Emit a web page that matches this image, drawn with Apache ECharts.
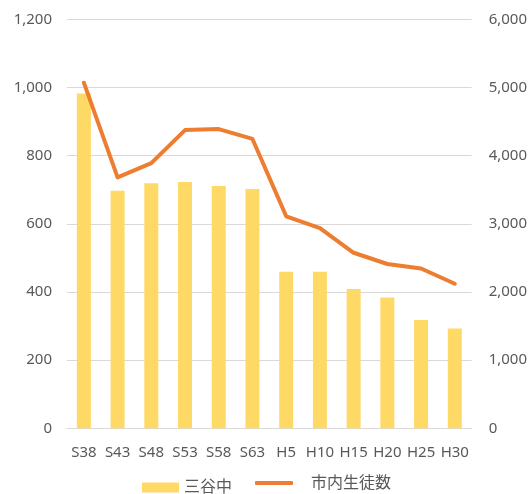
<!DOCTYPE html>
<html>
<head>
<meta charset="utf-8">
<script src="https://cdn.jsdelivr.net/npm/echarts@6/dist/echarts.min.js"></script>
<style>
html,body{margin:0;padding:0;background:#fff;}
#chart{width:530px;height:494px;}
</style>
</head>
<body>
<div id="chart"></div>
<script>
var categories = ['S38','S43','S48','S53','S58','S63','H5','H10','H15','H20','H25','H30'];
var schoolValues = [982, 697, 719, 723, 711, 702, 459, 459, 409, 384, 318, 293];
var cityValues = [5070, 3680, 3890, 4375, 4390, 4245, 3110, 2935, 2575, 2410, 2345, 2120];
var leftTicks = [0, 200, 400, 600, 800, 1000, 1200];
var rightTicks = [0, 1000, 2000, 3000, 4000, 5000, 6000];
var schoolName = '三谷中';
var cityName = '市内生徒数';

var fontFamily = '"Noto Sans", "Noto Sans CJK JP", sans-serif';
var textColor = '#595959';
var chart = echarts.init(document.getElementById('chart'), null, {renderer: 'canvas'});
function fmt(v){ return v.toLocaleString('en-US'); }
chart.setOption({
  animation: false,
  backgroundColor: '#ffffff',
  grid: {left: 67, right: 58, top: 19.3, bottom: 65.7},
  legend: [{
    data: [{name: schoolName, icon: 'rect'}],
    left: 137, top: 474.5,
    itemWidth: 37, itemHeight: 10,
    textStyle: {color: textColor, fontSize: 16, fontFamily: fontFamily}
  }, {
    data: [{name: cityName, icon: 'roundRect'}],
    left: 250, top: 470,
    itemWidth: 38, itemHeight: 4,
    textStyle: {color: textColor, fontSize: 16, fontFamily: fontFamily, padding: [0,0,9,13]}
  }],
  xAxis: {
    type: 'category',
    data: categories,
    axisLine: {show: true, lineStyle: {color: '#d9d9d9', width: 1}},
    axisTick: {show: false},
    axisLabel: {color: textColor, fontSize: 15, fontFamily: fontFamily, margin: 17, interval: 0}
  },
  yAxis: [{
    type: 'value', min: leftTicks[0], max: leftTicks[leftTicks.length-1], interval: 200,
    axisLine: {show: false}, axisTick: {show: false},
    splitLine: {lineStyle: {color: '#d9d9d9', width: 1}},
    axisLabel: {color: textColor, fontSize: 15, fontFamily: fontFamily, margin: 15, formatter: fmt}
  }, {
    type: 'value', min: rightTicks[0], max: rightTicks[rightTicks.length-1], interval: 1000,
    axisLine: {show: false}, axisTick: {show: false},
    splitLine: {show: false},
    axisLabel: {color: textColor, fontSize: 15, fontFamily: fontFamily, margin: 17, formatter: fmt}
  }],
  series: [{
    name: schoolName, type: 'bar', yAxisIndex: 0,
    data: schoolValues, barWidth: 14,
    itemStyle: {color: '#FFD966'}
  }, {
    name: cityName, type: 'line', yAxisIndex: 1,
    data: cityValues, showSymbol: false, symbol: 'none',
    lineStyle: {color: '#ED7D31', width: 4, cap: 'round', join: 'round'},
    itemStyle: {color: '#ED7D31'}
  }]
});
</script>
</body>
</html>
